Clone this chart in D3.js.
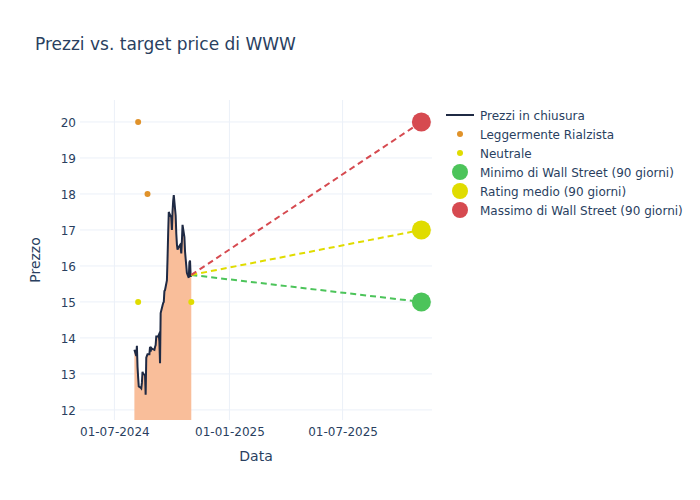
<!DOCTYPE html>
<html><head><meta charset="utf-8">
<script src="https://cdn.jsdelivr.net/npm/d3@7"></script>
<style>body{margin:0;background:#fff;} svg{display:block;font-family:"DejaVu Sans",sans-serif;}</style>
</head><body><svg id="c" width="700" height="500"></svg>
<script>
const priceDates = ["2024-08-02","2024-08-05","2024-08-06","2024-08-07","2024-08-08","2024-08-09",
"2024-08-12","2024-08-13","2024-08-14","2024-08-15","2024-08-16",
"2024-08-19","2024-08-20","2024-08-21","2024-08-22","2024-08-23",
"2024-08-26","2024-08-27","2024-08-28","2024-08-29","2024-08-30",
"2024-09-03","2024-09-04","2024-09-05","2024-09-06",
"2024-09-09","2024-09-10","2024-09-11","2024-09-12","2024-09-13",
"2024-09-16","2024-09-17","2024-09-18","2024-09-19","2024-09-20",
"2024-09-23","2024-09-24","2024-09-25","2024-09-26","2024-09-27",
"2024-09-30","2024-10-01","2024-10-02","2024-10-03","2024-10-04",
"2024-10-07","2024-10-08","2024-10-09","2024-10-10","2024-10-11",
"2024-10-14","2024-10-15","2024-10-16","2024-10-17","2024-10-18",
"2024-10-21","2024-10-22","2024-10-23","2024-10-24","2024-10-25",
"2024-10-28","2024-10-29","2024-10-30","2024-10-31","2024-11-01"];
const priceValues = [13.67,13.5,13.78,13.2,12.9,12.65,
12.62,12.6,12.75,13.06,13.0,
12.97,12.42,13.45,13.5,13.55,
13.55,13.75,13.62,13.72,13.7,
13.67,13.75,13.8,14.04,
14.04,14.08,13.9,13.3,14.69,
14.9,14.97,15.0,15.3,15.33,
15.6,16.2,16.9,17.5,17.45,
17.35,17.0,17.5,17.8,17.97,
17.4,16.9,16.6,16.45,16.5,
16.58,16.5,16.35,16.7,17.14,
16.8,16.4,16.2,16.0,15.8,
15.67,16.1,16.15,15.7,15.75];

const ratingUpDates = ["2024-08-08","2024-08-23"];
const ratingUpValues = [20,18];
const neutralDates = ["2024-08-08","2024-11-01"];
const neutralValues = [15,15];

const targetDate = "2025-11-04";
const targetNames = ["Minimo di Wall Street (90 giorni)","Rating medio (90 giorni)","Massimo di Wall Street (90 giorni)"];
const targetValues = [15,17,20];
const targetColors = ["#4cc45a","#e0dc00","#d64a50"];

const yTicks = [12,13,14,15,16,17,18,19,20];
const xTickDates = ["2024-07-01","2025-01-01","2025-07-01"];
const xTickLabels = ["01-07-2024","01-01-2025","01-07-2025"];

const P = d3.timeParse("%Y-%m-%d");
const svg = d3.select("#c");
const L=80, R=432, T=100, B=420;
const x = d3.scaleTime().domain([P("2024-05-07"), P("2025-11-21")]).range([L,R]);
const y = d3.scaleLinear().domain([11.72, 20.61]).range([B,T]);
const txt = "#2a3f5f", grid = "#ebf0f8";

// grid
svg.append("g").selectAll("line").data(yTicks).join("line")
 .attr("x1",L).attr("x2",R).attr("y1",d=>y(d)).attr("y2",d=>y(d)).attr("stroke",grid).attr("stroke-width",1);
svg.append("g").selectAll("line").data(xTickDates).join("line")
 .attr("x1",d=>x(P(d))).attr("x2",d=>x(P(d))).attr("y1",T).attr("y2",B).attr("stroke",grid).attr("stroke-width",1);

// axes
const ya = svg.append("g").attr("transform",`translate(${L},0)`)
 .call(d3.axisLeft(y).tickValues(yTicks).tickSize(0).tickPadding(4).tickFormat(d3.format("d")));
ya.select(".domain").remove();
ya.selectAll("text").attr("fill",txt).attr("font-size",12).attr("font-family","DejaVu Sans").attr("dy","0.4em");
const xa = svg.append("g").attr("transform",`translate(0,${B})`)
 .call(d3.axisBottom(x).tickValues(xTickDates.map(P)).tickSize(0).tickPadding(7).tickFormat((d,i)=>xTickLabels[i]));
xa.select(".domain").remove();
xa.selectAll("text").attr("fill",txt).attr("font-size",12).attr("font-family","DejaVu Sans");

const clip = svg.append("clipPath").attr("id","cp").append("rect").attr("x",L).attr("y",T).attr("width",R-L).attr("height",B-T);
const g = svg.append("g").attr("clip-path","url(#cp)");

const pts = priceDates.map((d,i)=>({d:P(d),v:priceValues[i]}));
g.append("path").datum(pts).attr("fill","#f9bb95").attr("fill-opacity",0.95)
 .attr("d",d3.area().x(p=>x(p.d)).y0(y(0)>B?B+5:y(0)).y1(p=>y(p.v)));
g.append("path").datum(pts).attr("fill","none").attr("stroke","#1f2a44").attr("stroke-width",2)
 .attr("d",d3.line().x(p=>x(p.d)).y(p=>y(p.v)));

// target lines
const last = pts[pts.length-1];
targetValues.forEach((v,i)=>{
 g.append("line").attr("x1",x(last.d)).attr("y1",y(last.v)).attr("x2",x(P(targetDate))).attr("y2",y(v))
  .attr("stroke",targetColors[i]).attr("stroke-width",2).attr("stroke-dasharray","6,4");
});
// analyst dots
g.selectAll(".up").data(ratingUpDates).join("circle").attr("cx",d=>x(P(d))).attr("cy",(d,i)=>y(ratingUpValues[i])).attr("r",3).attr("fill","#e0922a");
g.selectAll(".ne").data(neutralDates).join("circle").attr("cx",d=>x(P(d))).attr("cy",(d,i)=>y(neutralValues[i])).attr("r",3).attr("fill","#e0dc00");
// target markers
svg.selectAll(".tg").data(targetValues).join("circle").attr("cx",x(P(targetDate))).attr("cy",d=>y(d)).attr("r",9.5).attr("fill",(d,i)=>targetColors[i]);

// title & axis titles
svg.append("text").attr("x",35).attr("y",50).attr("fill",txt).attr("font-size",17).text("Prezzi vs. target price di WWW");
svg.append("text").attr("x",(L+R)/2).attr("y",461).attr("text-anchor","middle").attr("fill",txt).attr("font-size",14).text("Data");
svg.append("text").attr("transform",`translate(40,${(T+B)/2}) rotate(-90)`).attr("text-anchor","middle").attr("fill",txt).attr("font-size",14).text("Prezzo");

// legend
const legendItems = [
 {name:"Prezzi in chiusura", type:"line", color:"#1f2a44"},
 {name:"Leggermente Rialzista", type:"dot", color:"#e0922a"},
 {name:"Neutrale", type:"dot", color:"#e0dc00"},
 {name:targetNames[0], type:"big", color:targetColors[0]},
 {name:targetNames[1], type:"big", color:targetColors[1]},
 {name:targetNames[2], type:"big", color:targetColors[2]}];
const lg = svg.append("g");
legendItems.forEach((it,i)=>{
 const yy = 115 + i*19;
 if(it.type==="line") lg.append("line").attr("x1",446).attr("x2",474).attr("y1",yy).attr("y2",yy).attr("stroke",it.color).attr("stroke-width",2);
 else lg.append("circle").attr("cx",460).attr("cy",yy).attr("r",it.type==="dot"?3:8).attr("fill",it.color);
 lg.append("text").attr("x",480).attr("y",yy+4.5).attr("fill",txt).attr("font-size",12).text(it.name);
});
</script></body></html>
